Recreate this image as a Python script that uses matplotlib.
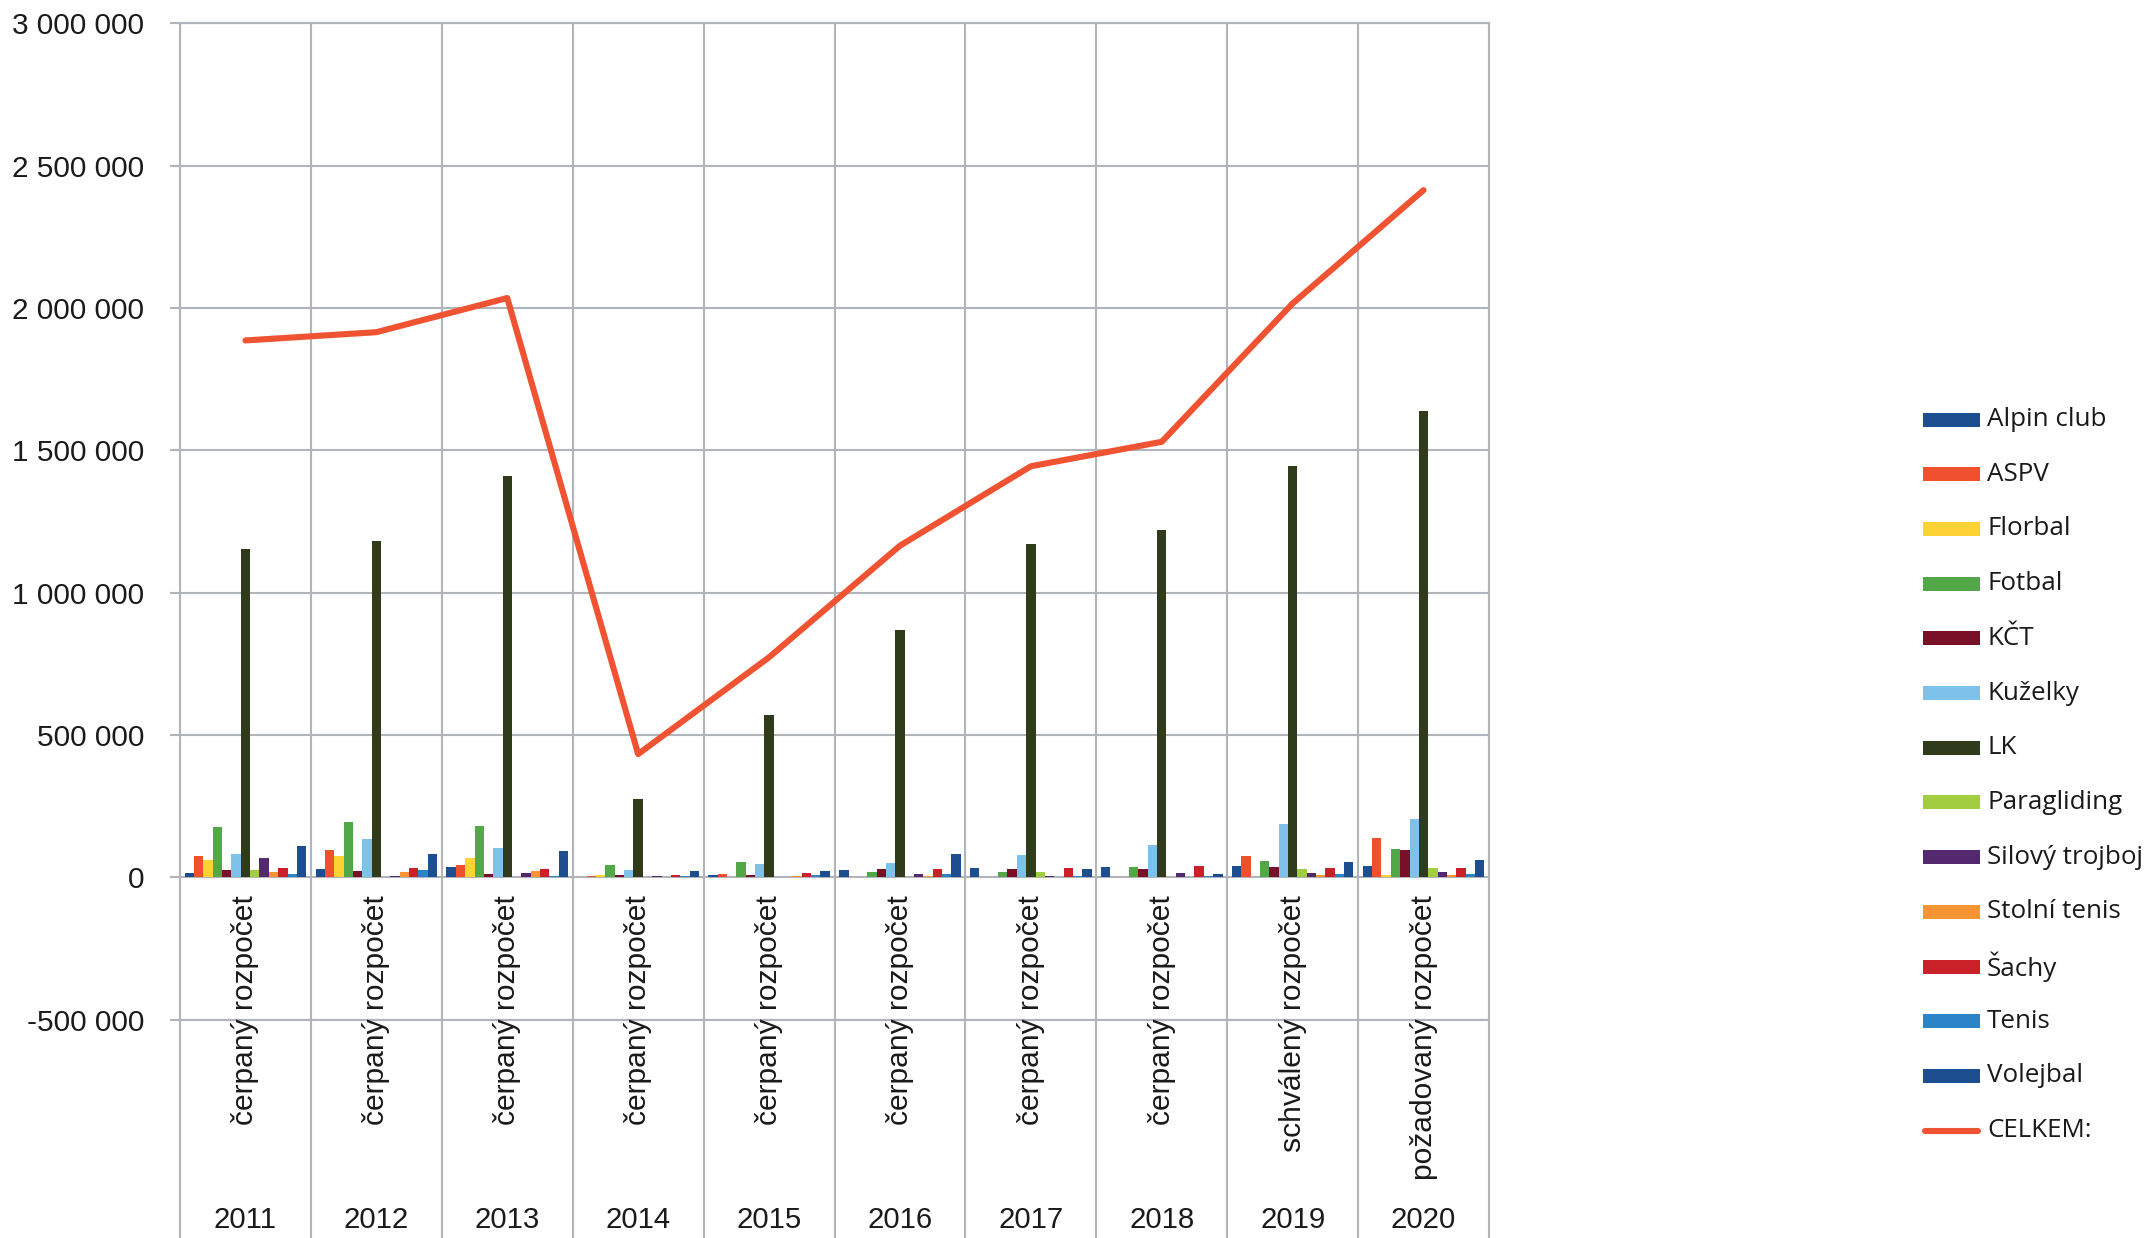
import matplotlib
matplotlib.use("Agg")
import matplotlib.pyplot as plt
from matplotlib.patches import Rectangle
from matplotlib.lines import Line2D
import numpy as np

years = ["2011", "2012", "2013", "2014", "2015", "2016", "2017", "2018", "2019", "2020"]
budget_types = ["čerpaný rozpočet"] * 8 + ["schválený rozpočet", "požadovaný rozpočet"]

series_names = ["Alpin club", "ASPV", "Florbal", "Fotbal", "KČT", "Kuželky", "LK",
                "Paragliding", "Silový trojboj", "Stolní tenis", "Šachy", "Tenis", "Volejbal"]

alpin_club = [14000, 29000, 36000, 0, 7000, 26000, 33000, 36000, 39000, 39000]
aspv = [76000, 97000, 43000, 5000, 13000, 0, 0, 0, 74000, 140000]
florbal = [62000, 75000, 68000, 8000, 0, 0, 0, 0, 0, 8000]
fotbal = [178000, 194000, 179000, 44000, 54000, 17500, 20000, 35000, 57000, 101000]
kct = [24600, 21000, 12000, 7000, 7000, 30000, 29000, 30000, 36000, 96000]
kuzelky = [81000, 133000, 104000, 27000, 47000, 50000, 78000, 113000, 187000, 206000]
lk = [1153000, 1183000, 1409000, 275000, 569000, 868000, 1171000, 1220000, 1444000, 1638000]
paragliding = [26000, 0, 0, 0, 0, 3000, 17500, 0, 29000, 33000]
silovy_trojboj = [67000, 5000, 16000, 5000, 0, 10500, 6000, 14000, 16000, 17500]
stolni_tenis = [20000, 17500, 22000, 3000, 4500, 6000, 3000, 0, 8000, 8000]
sachy = [33000, 33000, 29000, 8000, 16000, 30000, 31500, 40000, 33000, 31500]
tenis = [10500, 26000, 5000, 5000, 8000, 12000, 5000, 5000, 12000, 10500]
volejbal = [110000, 81000, 92000, 22000, 22000, 83000, 29000, 12000, 54000, 61000]
celkem = [1886000, 1915000, 2035000, 433000, 773000, 1165000, 1444000, 1530000, 2016000, 2414000]

series_values = [alpin_club, aspv, florbal, fotbal, kct, kuzelky, lk,
                 paragliding, silovy_trojboj, stolni_tenis, sachy, tenis, volejbal]
series_colors = ["#1D4E8F", "#F0502E", "#FDD234", "#52A847", "#7A1027", "#7EC1EA", "#2F3B1A",
                 "#A3CD40", "#53286F", "#F69332", "#CA2129", "#2B83C8", "#1D4E8F"]
line_color = "#F05332"
grid_color = "#B1B4B8"
text_color = "#1A1A1A"

W, H = 2152, 1238
fig = plt.figure(figsize=(W / 100, H / 100), dpi=100)
left_px, right_px, top_px, bottom_px = 180, 1489, 23.3, 1019.7
ax = fig.add_axes([left_px / W, 1 - bottom_px / H, (right_px - left_px) / W, (bottom_px - top_px) / H])

x = np.arange(len(years))
n = len(series_names)
bw = 1.0 / (n + 1)
for j, (name, vals, col) in enumerate(zip(series_names, series_values, series_colors)):
    ax.bar(x + (j - (n - 1) / 2) * bw, vals, width=bw, color=col, zorder=2, linewidth=0)

ax.plot(x, celkem, color=line_color, lw=4.4, zorder=4, solid_capstyle="round", solid_joinstyle="round")

ax.set_xlim(-0.5, len(years) - 0.5)
ax.set_ylim(-500000, 3000000)
yt = np.arange(-500000, 3000001, 500000)
ax.set_yticks(yt)
ax.set_yticklabels([f"{v:,.0f}".replace(",", " ") for v in yt], fontsize=21.4, family="Liberation Sans",
                   color=text_color)
ax.tick_params(axis="y", length=7, width=1.5, color=grid_color, pad=19)

ax.set_xticks(x)
ax.set_xticklabels([])
ax.tick_params(axis="x", which="major", length=0)
ax.set_xticks(np.arange(-0.5, len(years), 1.0), minor=True)
ax.tick_params(axis="x", which="minor", length=(H - bottom_px) * 0.72 + 2, width=1.5, color=grid_color,
               direction="out")

ax.grid(axis="y", color=grid_color, lw=1.5, zorder=0)
ax.grid(axis="x", which="minor", color=grid_color, lw=1.5, zorder=0)
ax.set_axisbelow(True)
for s in ax.spines.values():
    s.set_color(grid_color)
    s.set_linewidth(1.5)

for i, (yr, bt) in enumerate(zip(years, budget_types)):
    ax.annotate(bt, xy=(i, 0), xycoords="data", xytext=(0, -13), textcoords="offset points",
                rotation=90, ha="center", va="top", fontsize=21.6, family="Liberation Sans",
                color=text_color, zorder=5)
    ax.annotate(yr, xy=(i, 0), xycoords=("data", "axes fraction"), xytext=(0, -144),
                textcoords="offset points", ha="center", va="center", fontsize=21.2,
                family="Liberation Sans", color=text_color)

# legend (manual)
leg_names = series_names + ["CELKEM:"]
y0, dy = 419.5, 54.7
for k, name in enumerate(leg_names):
    yc = y0 + k * dy
    if k < n:
        fig.add_artist(Rectangle((1923 / W, 1 - (yc + 7) / H), 57 / W, 14 / H,
                                 transform=fig.transFigure, color=series_colors[k], lw=0))
    else:
        fig.add_artist(Line2D([1925 / W, 1978 / W], [1 - yc / H, 1 - yc / H], transform=fig.transFigure,
                              color=line_color, lw=4.4, solid_capstyle="round"))
    fig.text(1987 / W, 1 - yc / H, name, ha="left", va="center", fontsize=18.7, family="Open Sans",
             color=text_color)

fig.savefig("out.png", dpi=100)
